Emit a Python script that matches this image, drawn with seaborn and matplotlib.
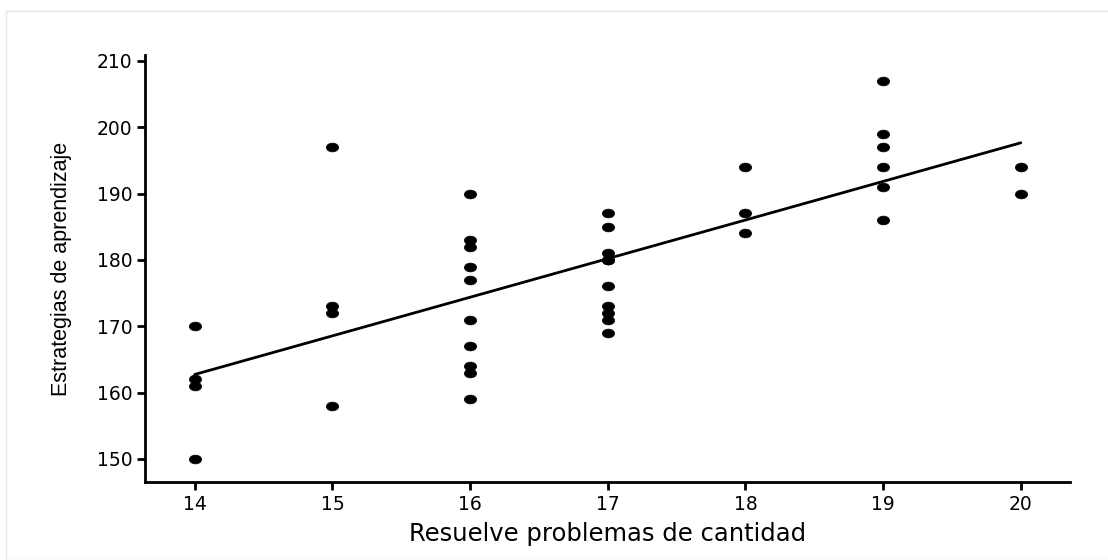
import numpy as np
import pandas as pd
import seaborn as sns
import matplotlib.pyplot as plt
from matplotlib.path import Path
from matplotlib.transforms import Affine2D
from matplotlib.patches import Rectangle

# valores
cantidad = [14, 14, 14, 14,
            15, 15, 15, 15,
            16, 16, 16, 16, 16, 16, 16, 16, 16, 16,
            17, 17, 17, 17, 17, 17, 17, 17, 17, 17,
            18, 18, 18,
            19, 19, 19, 19, 19, 19,
            20, 20]
estrategias = [170, 162, 161, 150,
               197, 173, 172, 158,
               190, 183, 182, 179, 177, 171, 167, 164, 163, 159,
               187, 185, 181, 180, 180, 176, 173, 172, 171, 169,
               194, 187, 184,
               207, 199, 197, 194, 191, 186,
               194, 190]
x_ticks = [14, 15, 16, 17, 18, 19, 20]
y_ticks = [150, 160, 170, 180, 190, 200, 210]

df = pd.DataFrame({"cantidad": cantidad, "estrategias": estrategias})

sns.set_style("ticks")
plt.rcParams["font.family"] = ["DejaVu Sans"]
plt.rcParams["text.color"] = "black"
plt.rcParams["axes.labelcolor"] = "black"

fig = plt.figure(figsize=(11.08, 5.6), dpi=100)
ax = fig.add_axes([0.131, 0.139, 0.835, 0.763])

# marcador eliptico
circ = Path.unit_circle()
ellipse = Affine2D().scale(1.4, 1.0).transform_path(circ)

sns.regplot(data=df, x="cantidad", y="estrategias", ci=None, ax=ax,
            marker=ellipse,
            scatter_kws={"s": 78, "color": "black", "edgecolor": "black", "linewidths": 0.5, "alpha": 1},
            line_kws={"color": "black", "lw": 2})

ax.set_xlim(13.64, 20.36)
ax.set_ylim(146.5, 210.9)
ax.set_xticks(x_ticks)
ax.set_yticks(y_ticks)
ax.tick_params(direction="out", length=6, width=2, labelsize=13.5, colors="black", pad=3)
for side in ["left", "bottom"]:
    ax.spines[side].set_linewidth(2)
    ax.spines[side].set_color("black")
sns.despine(ax=ax)

ax.set_xlabel("Resuelve problemas de cantidad", fontsize=17.5, labelpad=6, color="black")
ax.set_ylabel("Estrategias de aprendizaje", fontsize=15.5, color="black",
              family=["Liberation Sans", "DejaVu Sans"], labelpad=18)

fig.patches.append(Rectangle((6 / 1108, 0), 1.0, 1 - 11 / 560, transform=fig.transFigure,
                             fill=False, edgecolor="#e6e6e6", lw=1))

fig.savefig("out.png", dpi=100)
